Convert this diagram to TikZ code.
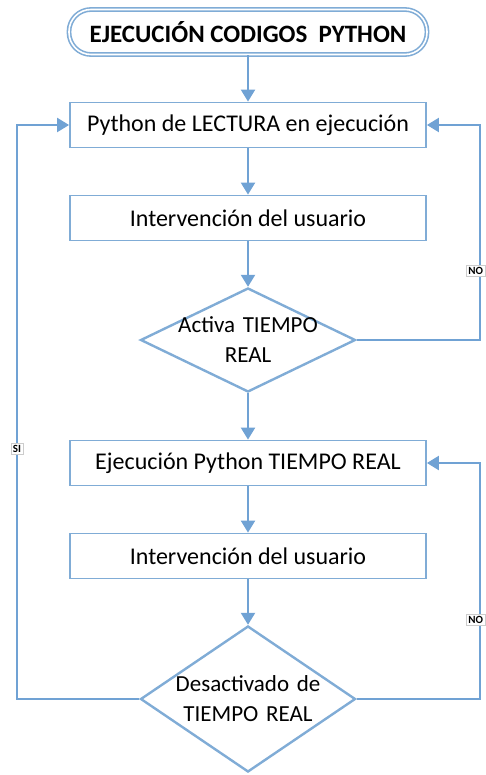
\documentclass[tikz,border=0pt]{standalone}
\usepackage{fontspec}
\setmainfont{Carlito}
\usetikzlibrary{arrows.meta,shapes.geometric}
\definecolor{flowline}{RGB}{112,162,212}
\definecolor{flowedge}{RGB}{128,172,214}
\tikzset{
  stepbox/.style={draw=flowedge, line width=1.8pt, fill=white, minimum width=356pt,
    minimum height=45pt, inner sep=0pt, font=\fontsize{24}{28}\selectfont},
  decision/.style={diamond, draw=flowedge, line width=2.4pt, fill=white, inner sep=-40pt,
    minimum width=215pt, text width=160pt, align=center,
    font=\fontsize{23}{30}\selectfont},
  startbox/.style={draw=flowedge, double=white, double distance=1.6pt, line width=1.6pt,
    rounded corners=22pt, minimum width=358pt, minimum height=45pt, inner sep=0pt,
    font=\bfseries\fontsize{25}{28}\selectfont},
  flow/.style={draw=flowline, line width=2.2pt, -{Triangle[width=14pt,length=12pt]}},
  tag/.style={draw=black!20, line width=0.6pt, fill=white, inner sep=2pt,
    font=\bfseries\fontsize{11}{12}\selectfont}
}
\begin{document}
\begin{tikzpicture}[x=1pt,y=-1pt]
\useasboundingbox (0,0) rectangle (485,775);

\node[startbox] (start) at (248,32) {EJECUCIÓN CODIGOS\ \ PYTHON};
\node[stepbox] (read) at (248,125) {Python de LECTURA en ejecución};
\node[stepbox] (user1) at (248,218) {Intervención del usuario};
\node[decision, minimum height=104pt] (rt) at (248,340) {Activa TIEMPO\\REAL};
\node[stepbox] (exec) at (248,463) {Ejecución Python TIEMPO REAL};
\node[stepbox] (user2) at (248,556) {Intervención del usuario};
\node[decision, minimum height=146pt] (off) at (248,699) {Desactivado de\\TIEMPO REAL};

\coordinate (rtR) at (480,340);
\coordinate (offR) at (480,699);
\coordinate (offL) at (17,699);

\draw[flow] (start) -- (read);
\draw[flow] (read) -- (user1);
\draw[flow] (user1) -- (rt);
\draw[flow] (rt) -- (exec);
\draw[flow] (exec) -- (user2);
\draw[flow] (user2) -- (off);

\draw[flow] (rt.east) -- (rtR) |- (read.east);
\draw[flow] (off.east) -- (offR) |- (exec.east);
\draw[flow] (off.west) -- (offL) |- (read.west);

\node[tag, anchor=west] (no1) at (466,271) {NO};
\node[tag, anchor=west] (no2) at (466,620) {NO};
\node[tag] (si) at (17,449) {SI};
\end{tikzpicture}
\end{document}
